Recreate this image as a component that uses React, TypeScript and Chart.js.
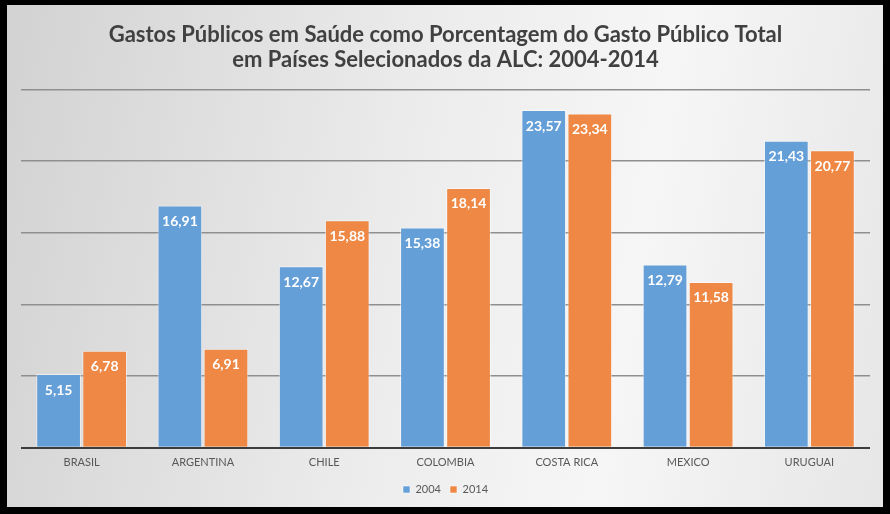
import React, { useEffect, useRef } from "react";
import { Chart, registerables } from "chart.js";

Chart.register(...registerables);

const categories = ["BRASIL", "ARGENTINA", "CHILE", "COLOMBIA", "COSTA RICA", "MEXICO", "URUGUAI"];
const series2004 = [5.15, 16.91, 12.67, 15.38, 23.57, 12.79, 21.43];
const series2014 = [6.78, 6.91, 15.88, 18.14, 23.34, 11.58, 20.77];
const seriesLabels = ["2004", "2014"];
const titleLines = [
  "Gastos Públicos em Saúde como Porcentagem do Gasto Público Total",
  "em Países Selecionados da ALC: 2004-2014",
];

const FONT = "Lato, 'Open Sans', sans-serif";

const dataLabelPlugin = {
  id: "dataLabels",
  afterDatasetsDraw(chart: any) {
    const ctx = chart.ctx;
    ctx.save();
    ctx.font = `bold 14px ${FONT}`;
    ctx.fillStyle = "#ffffff";
    ctx.textAlign = "center";
    ctx.textBaseline = "middle";
    chart.data.datasets.forEach((ds: any, i: number) => {
      const meta = chart.getDatasetMeta(i);
      meta.data.forEach((bar: any, j: number) => {
        const v = ds.data[j] as number;
        ctx.fillText(v.toFixed(2).replace(".", ","), bar.x, bar.y + 16);
      });
    });
    ctx.restore();
  },
};

export default function App() {
  const ref = useRef<HTMLCanvasElement | null>(null);
  useEffect(() => {
    document.body.style.margin = "0";
    const chart = new Chart(ref.current as HTMLCanvasElement, {
      type: "bar",
      data: {
        labels: categories,
        datasets: [
          {
            label: seriesLabels[0],
            data: series2004,
            backgroundColor: "#659fd8",
            borderColor: "rgba(255,255,255,0.55)",
            borderWidth: 1,
            barPercentage: 0.97,
            categoryPercentage: 0.76,
          },
          {
            label: seriesLabels[1],
            data: series2014,
            backgroundColor: "#ee8844",
            borderColor: "rgba(255,255,255,0.55)",
            borderWidth: 1,
            barPercentage: 0.97,
            categoryPercentage: 0.76,
          },
        ],
      },
      options: {
        animation: false,
        responsive: false,
        maintainAspectRatio: false,
        layout: { padding: { left: 14, right: 13, top: 4, bottom: 2 } },
        plugins: {
          title: {
            display: true,
            text: titleLines,
            color: "#404040",
            font: { family: FONT, size: 22, weight: "bold", lineHeight: 1.15 },
            padding: { top: 13, bottom: 17 },
          },
          legend: {
            position: "bottom",
            labels: {
              boxWidth: 7,
              boxHeight: 7,
              color: "#595959",
              font: { family: FONT, size: 11 },
              padding: 9,
            },
          },
          tooltip: { enabled: false },
        },
        scales: {
          x: {
            grid: { display: false },
            border: { display: false },
            ticks: { color: "#595959", font: { family: FONT, size: 11 }, padding: 0 },
            afterFit: (axis: any) => {
              axis.height += 6;
            },
          },
          y: {
            min: 0,
            max: 25,
            ticks: { display: false, stepSize: 5 },
            border: { display: false },
            grid: {
              drawTicks: false,
              color: (c: any) => (c.tick && c.tick.value === 0 ? "#3c3c3c" : "#8f8f8f"),
              lineWidth: (c: any) => (c.tick && c.tick.value === 0 ? 2 : 1.5),
            },
          },
        },
      },
      plugins: [dataLabelPlugin],
    });
    return () => chart.destroy();
  }, []);

  return (
    <div style={{ position: "relative", width: 890, height: 514, background: "#000" }}>
      <div
        style={{
          position: "absolute",
          left: 7,
          top: 5,
          width: 876,
          height: 502,
          background: "linear-gradient(100deg, #d2d2d2 0%, #ececec 45%, #f6f6f6 70%, #e6e6e6 100%)",
        }}
      >
        <canvas ref={ref} width={876} height={502} style={{ display: "block" }} />
      </div>
    </div>
  );
}
